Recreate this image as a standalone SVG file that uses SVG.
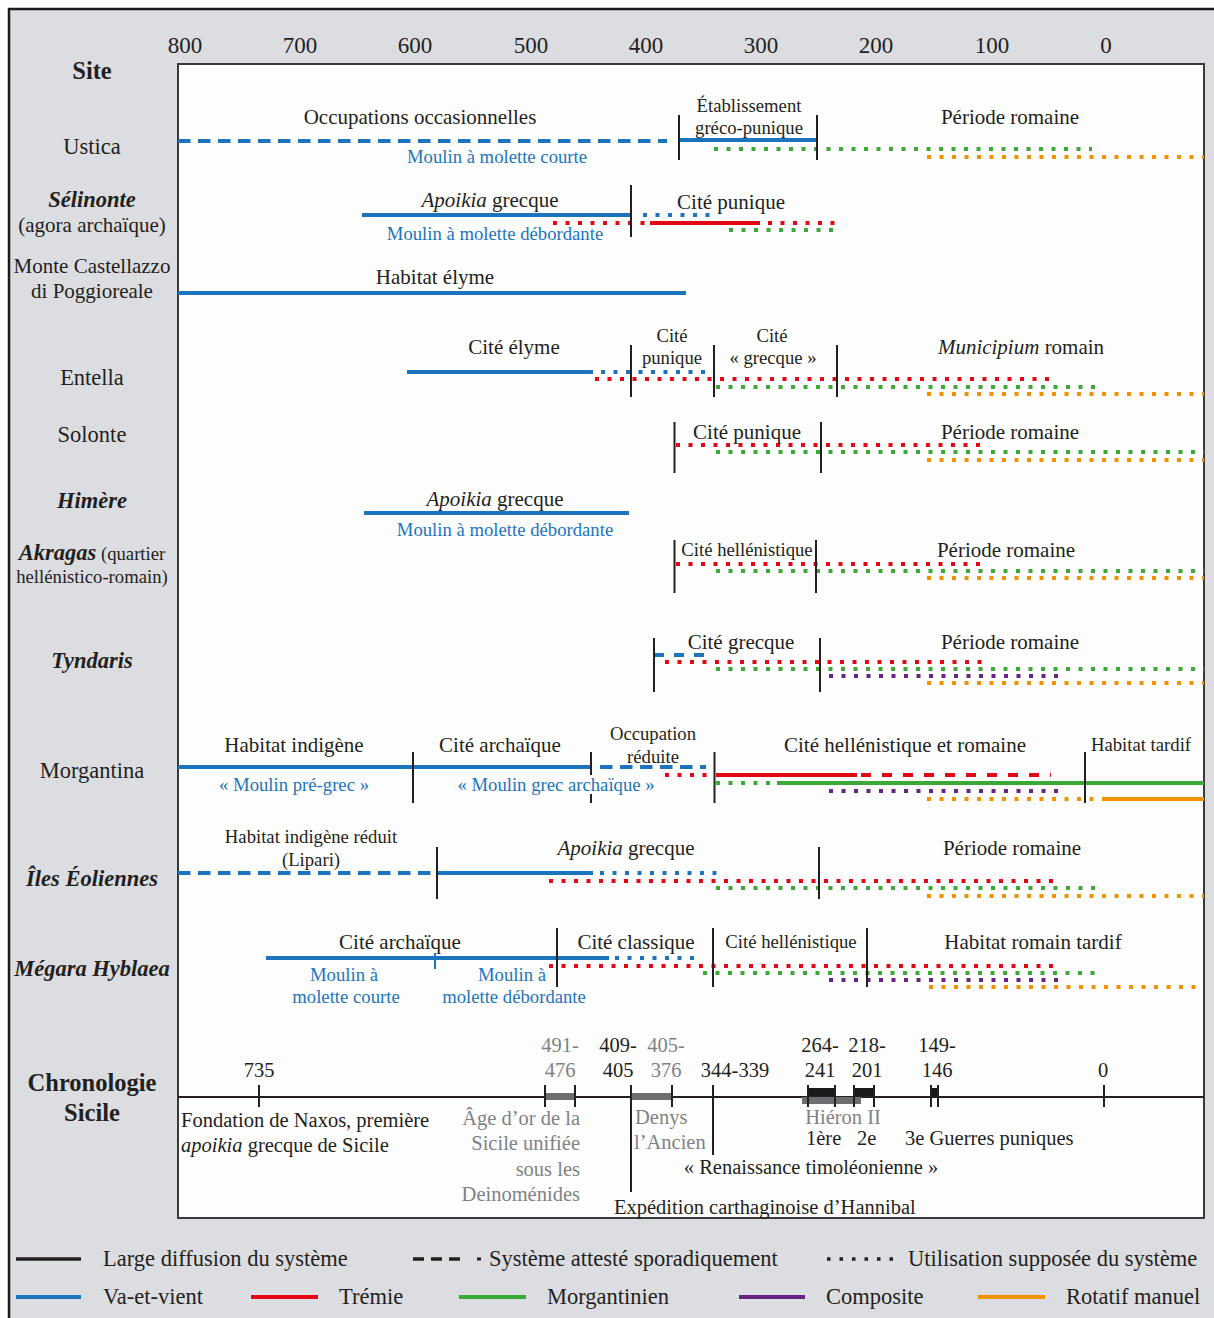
<svg xmlns="http://www.w3.org/2000/svg" width="1214" height="1318" viewBox="0 0 1214 1318">
<style>
.t{font-family:"Liberation Serif","Times New Roman",serif;fill:#231f20}
.m{text-anchor:middle}
.e{text-anchor:end}
.f25{font-size:24.5px;font-weight:bold}
.f23{font-size:23px}
.f22{font-size:22.5px}
.f21{font-size:21px}
.f20{font-size:20.5px}
.f19{font-size:18.7px}
.bi{font-weight:bold;font-style:italic}
.it{font-style:italic}
.blt{fill:#1c75bc}
.gyt{fill:#808285}
line{fill:none}
.bl{stroke:#1c75bc}.rd{stroke:#e30613}.gr{stroke:#3aa935}.pu{stroke:#662483}.or{stroke:#f39200}.bk{stroke:#231f20}
.so{stroke-width:4}
.da{stroke-width:4;stroke-dasharray:12.5 7.5}
.ds{stroke-width:4;stroke-dasharray:10 11}
.dt{stroke-width:4;stroke-dasharray:4 8.5}
.tk{stroke:#231f20;stroke-width:2}
</style>
<rect x="0" y="0" width="1214" height="1318" fill="#ffffff"/>
<rect x="9" y="9" width="1210" height="1315" fill="#dcdde0" stroke="#1a1a1a" stroke-width="2.5"/>
<rect x="178" y="64" width="1026" height="1154" fill="#fdfdfd" stroke="#3a3a3a" stroke-width="2"/>

<g id="axis">
<text class="t f23 m" x="185" y="53">800</text>
<text class="t f23 m" x="300" y="53">700</text>
<text class="t f23 m" x="415" y="53">600</text>
<text class="t f23 m" x="531" y="53">500</text>
<text class="t f23 m" x="646" y="53">400</text>
<text class="t f23 m" x="761" y="53">300</text>
<text class="t f23 m" x="876" y="53">200</text>
<text class="t f23 m" x="992" y="53">100</text>
<text class="t f23 m" x="1106" y="53">0</text>
</g>

<g id="sites">
<text class="t f25 m" x="92" y="79">Site</text>
<text class="t f22 m" x="92" y="154">Ustica</text>
<text class="t f22 m bi" x="92" y="207">Sélinonte</text>
<text class="t f21 m" x="92" y="232">(agora archaïque)</text>
<text class="t f21 m" x="92" y="273">Monte Castellazzo</text>
<text class="t f21 m" x="92" y="298">di Poggioreale</text>
<text class="t f22 m" x="92" y="385">Entella</text>
<text class="t f22 m" x="92" y="442">Solonte</text>
<text class="t f22 m bi" x="92" y="508">Himère</text>
<text class="t m" x="92" y="560"><tspan class="f22 bi">Akragas</tspan><tspan class="f19"> (quartier</tspan></text>
<text class="t f19 m" x="92" y="583">hellénistico-romain)</text>
<text class="t f22 m bi" x="92" y="668">Tyndaris</text>
<text class="t f22 m" x="92" y="778">Morgantina</text>
<text class="t f22 m bi" x="92" y="886">Îles Éoliennes</text>
<text class="t f22 m bi" x="92" y="976">Mégara Hyblaea</text>
<text class="t f25 m" x="92" y="1091">Chronologie</text>
<text class="t f25 m" x="92" y="1121">Sicile</text>
</g>

<g id="connectors">
<!-- Ustica -->
<line class="bl da" x1="178" y1="141" x2="667" y2="141"/>
<line class="bl so" x1="679" y1="140" x2="817" y2="140"/>
<line class="gr dt" x1="714" y1="149" x2="1092" y2="149"/>
<line class="or dt" x1="927" y1="157" x2="1204" y2="157"/>
<line class="tk" x1="679" y1="115" x2="679" y2="160"/>
<line class="tk" x1="817" y1="115" x2="817" y2="160"/>
<!-- Selinonte -->
<line class="bl so" x1="362" y1="215" x2="631" y2="215"/>
<line class="bl dt" x1="643" y1="215" x2="712" y2="215"/>
<line class="rd dt" x1="553" y1="223" x2="647" y2="223"/>
<line class="rd so" x1="650" y1="223" x2="760" y2="223"/>
<line class="rd dt" x1="768" y1="223" x2="838" y2="223"/>
<line class="gr dt" x1="729" y1="230" x2="837" y2="230"/>
<line class="tk" x1="631" y1="185" x2="631" y2="237"/>
<!-- Monte Castellazzo -->
<line class="bl so" x1="178" y1="293" x2="686" y2="293"/>
<!-- Entella -->
<line class="bl so" x1="407" y1="372" x2="593" y2="372"/>
<line class="bl dt" x1="601" y1="372" x2="708" y2="372"/>
<line class="rd dt" x1="595" y1="379" x2="1053" y2="379"/>
<line class="gr dt" x1="716" y1="387" x2="1096" y2="387"/>
<line class="or dt" x1="927" y1="394" x2="1204" y2="394"/>
<line class="tk" x1="631" y1="345" x2="631" y2="397"/>
<line class="tk" x1="714" y1="345" x2="714" y2="397"/>
<line class="tk" x1="837" y1="345" x2="837" y2="397"/>
<!-- Solonte -->
<line class="rd dt" x1="676" y1="445" x2="980" y2="445"/>
<line class="gr dt" x1="716" y1="452" x2="1204" y2="452"/>
<line class="or dt" x1="927" y1="460" x2="1204" y2="460"/>
<line class="tk" x1="674.5" y1="422" x2="674.5" y2="473"/>
<line class="tk" x1="821" y1="422" x2="821" y2="473"/>
<!-- Himere -->
<line class="bl so" x1="364" y1="513" x2="629" y2="513"/>
<!-- Akragas -->
<line class="rd dt" x1="676" y1="564" x2="980" y2="564"/>
<line class="gr dt" x1="716" y1="571" x2="1204" y2="571"/>
<line class="or dt" x1="927" y1="578" x2="1204" y2="578"/>
<line class="tk" x1="674.5" y1="540" x2="674.5" y2="593"/>
<line class="tk" x1="816" y1="540" x2="816" y2="593"/>
<!-- Tyndaris -->
<line class="bl so" x1="654" y1="655" x2="706" y2="655" stroke-dasharray="10 10"/>
<line class="rd dt" x1="665" y1="662" x2="982" y2="662"/>
<line class="gr dt" x1="716" y1="669" x2="1204" y2="669"/>
<line class="pu dt" x1="829" y1="676" x2="1059" y2="676"/>
<line class="or dt" x1="927" y1="683" x2="1204" y2="683"/>
<line class="tk" x1="654" y1="638" x2="654" y2="692"/>
<line class="tk" x1="820" y1="638" x2="820" y2="692"/>
<!-- Morgantina -->
<line class="bl so" x1="178" y1="767" x2="591" y2="767"/>
<line class="bl da" x1="600" y1="767" x2="706" y2="767"/>
<line class="rd dt" x1="665" y1="775" x2="708" y2="775"/>
<line class="rd so" x1="716" y1="775" x2="857" y2="775"/>
<line class="rd ds" x1="861" y1="775" x2="1051" y2="775"/>
<line class="gr dt" x1="716" y1="783" x2="773" y2="783"/>
<line class="gr so" x1="777" y1="783" x2="1204" y2="783"/>
<line class="pu dt" x1="829" y1="791" x2="1059" y2="791"/>
<line class="or dt" x1="927" y1="799" x2="1096" y2="799"/>
<line class="or so" x1="1102" y1="799" x2="1204" y2="799"/>
<line class="tk" x1="413" y1="752" x2="413" y2="803"/>
<line class="tk" x1="591" y1="752" x2="591" y2="775"/>
<line class="tk" x1="591" y1="794" x2="591" y2="803"/>
<line class="tk" x1="714.5" y1="752" x2="714.5" y2="803"/>
<line class="tk" x1="1085" y1="752" x2="1085" y2="803"/>
<!-- Iles Eoliennes -->
<line class="bl da" x1="178" y1="873" x2="437" y2="873"/>
<line class="bl so" x1="437" y1="873" x2="593" y2="873"/>
<line class="bl dt" x1="600" y1="873" x2="718" y2="873"/>
<line class="rd dt" x1="549" y1="881" x2="1053" y2="881"/>
<line class="gr dt" x1="716" y1="888" x2="1096" y2="888"/>
<line class="or dt" x1="927" y1="896" x2="1204" y2="896"/>
<line class="tk" x1="437" y1="847" x2="437" y2="899"/>
<line class="tk" x1="819" y1="847" x2="819" y2="899"/>
<!-- Megara Hyblaea -->
<line class="bl so" x1="266" y1="958" x2="609" y2="958"/>
<line class="bl dt" x1="615" y1="958" x2="699" y2="958"/>
<line class="rd dt" x1="549" y1="966" x2="1053" y2="966"/>
<line class="gr dt" x1="703" y1="973" x2="1096" y2="973"/>
<line class="pu dt" x1="829" y1="980" x2="1059" y2="980"/>
<line class="or dt" x1="929" y1="987" x2="1198" y2="987"/>
<line class="bl" stroke-width="2" x1="435" y1="953" x2="435" y2="969"/>
<line class="tk" x1="557" y1="928" x2="557" y2="987"/>
<line class="tk" x1="713" y1="928" x2="713" y2="987"/>
<line class="tk" x1="867" y1="928" x2="867" y2="987"/>
</g>

<g id="labels">
<text class="t f21 m" x="420" y="124">Occupations occasionnelles</text>
<text class="t f19 m blt" x="497" y="163">Moulin à molette courte</text>
<text class="t f19 m" x="749" y="112">Établissement</text>
<text class="t f19 m" x="749" y="134">gréco-punique</text>
<text class="t f21 m" x="1010" y="124">Période romaine</text>
<text class="t f21 m" x="490" y="207"><tspan class="it">Apoikia</tspan> grecque</text>
<text class="t f21 m" x="731" y="209">Cité punique</text>
<text class="t f19 m blt" x="495" y="240">Moulin à molette débordante</text>
<text class="t f21 m" x="435" y="284">Habitat élyme</text>
<text class="t f21 m" x="514" y="354">Cité élyme</text>
<text class="t f19 m" x="672" y="342">Cité</text>
<text class="t f19 m" x="672" y="364">punique</text>
<text class="t f19 m" x="772" y="342">Cité</text>
<text class="t f19 m" x="773" y="364">« grecque »</text>
<text class="t f21 m" x="1021" y="354"><tspan class="it">Municipium</tspan> romain</text>
<text class="t f21 m" x="747" y="439">Cité punique</text>
<text class="t f21 m" x="1010" y="439">Période romaine</text>
<text class="t f21 m" x="495" y="506"><tspan class="it">Apoikia</tspan> grecque</text>
<text class="t f19 m blt" x="505" y="536">Moulin à molette débordante</text>
<text class="t f19 m" x="747" y="556">Cité hellénistique</text>
<text class="t f21 m" x="1006" y="557">Période romaine</text>
<text class="t f21 m" x="741" y="649">Cité grecque</text>
<text class="t f21 m" x="1010" y="649">Période romaine</text>
<text class="t f21 m" x="294" y="752">Habitat indigène</text>
<text class="t f21 m" x="500" y="752">Cité archaïque</text>
<text class="t f19 m" x="653" y="740">Occupation</text>
<text class="t f19 m" x="653" y="763">réduite</text>
<text class="t f21 m" x="905" y="752">Cité hellénistique et romaine</text>
<text class="t f19 m" x="1141" y="751">Habitat tardif</text>
<text class="t f19 m blt" x="294" y="791">« Moulin pré-grec »</text>
<text class="t f19 m blt" x="556" y="791">« Moulin grec archaïque »</text>
<text class="t f19 m" x="311" y="843">Habitat indigène réduit</text>
<text class="t f19 m" x="311" y="866">(Lipari)</text>
<text class="t f21 m" x="626" y="855"><tspan class="it">Apoikia</tspan> grecque</text>
<text class="t f21 m" x="1012" y="855">Période romaine</text>
<text class="t f21 m" x="400" y="949">Cité archaïque</text>
<text class="t f21 m" x="636" y="949">Cité classique</text>
<text class="t f19 m" x="791" y="948">Cité hellénistique</text>
<text class="t f21 m" x="1033" y="949">Habitat romain tardif</text>
<text class="t f19 m blt" x="344" y="981">Moulin à</text>
<text class="t f19 m blt" x="346" y="1003">molette courte</text>
<text class="t f19 m blt" x="512" y="981">Moulin à</text>
<text class="t f19 m blt" x="514" y="1003">molette débordante</text>
</g>

<g id="chronologie">
<line x1="178" y1="1097" x2="1204" y2="1097" stroke="#231f20" stroke-width="2"/>
<rect x="545" y="1093" width="30" height="7" fill="#6d6e71"/>
<rect x="631" y="1093" width="41" height="7" fill="#6d6e71"/>
<rect x="802" y="1097" width="59" height="7" fill="#6d6e71"/>
<rect x="808" y="1088" width="27" height="8" fill="#1a1a1a"/>
<rect x="854" y="1088" width="20" height="8" fill="#1a1a1a"/>
<rect x="931" y="1088" width="7" height="8" fill="#1a1a1a"/>
<line class="tk" x1="259" y1="1085" x2="259" y2="1107"/>
<line class="tk" x1="545" y1="1085" x2="545" y2="1107"/>
<line class="tk" x1="575" y1="1085" x2="575" y2="1107"/>
<line class="tk" x1="631" y1="1085" x2="631" y2="1192"/>
<line class="tk" x1="672" y1="1085" x2="672" y2="1107"/>
<line class="tk" x1="713" y1="1085" x2="713" y2="1155"/>
<line class="tk" x1="808" y1="1085" x2="808" y2="1107"/>
<line class="tk" x1="835" y1="1085" x2="835" y2="1107"/>
<line class="tk" x1="854" y1="1085" x2="854" y2="1107"/>
<line class="tk" x1="874" y1="1085" x2="874" y2="1107"/>
<line class="tk" x1="931" y1="1085" x2="931" y2="1107"/>
<line class="tk" x1="938" y1="1085" x2="938" y2="1107"/>
<line class="tk" x1="1104" y1="1085" x2="1104" y2="1107"/>
<text class="t f20 m" x="259" y="1077">735</text>
<text class="t f20 m gyt" x="560" y="1052">491-</text>
<text class="t f20 m gyt" x="560" y="1077">476</text>
<text class="t f20 m" x="618" y="1052">409-</text>
<text class="t f20 m" x="618" y="1077">405</text>
<text class="t f20 m gyt" x="666" y="1052">405-</text>
<text class="t f20 m gyt" x="666" y="1077">376</text>
<text class="t f20 m" x="735" y="1077">344-339</text>
<text class="t f20 m" x="820" y="1052">264-</text>
<text class="t f20 m" x="820" y="1077">241</text>
<text class="t f20 m" x="867" y="1052">218-</text>
<text class="t f20 m" x="867" y="1077">201</text>
<text class="t f20 m" x="937" y="1052">149-</text>
<text class="t f20 m" x="937" y="1077">146</text>
<text class="t f20 m" x="1103" y="1077">0</text>
<text class="t f20" x="181" y="1127">Fondation de Naxos, première</text>
<text class="t f20" x="181" y="1152"><tspan class="it">apoikia</tspan> grecque de Sicile</text>
<text class="t f20 e gyt" x="580" y="1125">Âge d’or de la</text>
<text class="t f20 e gyt" x="580" y="1150">Sicile unifiée</text>
<text class="t f20 e gyt" x="580" y="1176">sous les</text>
<text class="t f20 e gyt" x="580" y="1201">Deinoménides</text>
<text class="t f20 gyt" x="635" y="1124">Denys</text>
<text class="t f20 gyt" x="634" y="1149">l’Ancien</text>
<text class="t f20 gyt m" x="843" y="1124">Hiéron II</text>
<text class="t f20" x="806" y="1145">1ère</text>
<text class="t f20" x="857" y="1145">2e</text>
<text class="t f20" x="905" y="1145">3e Guerres puniques</text>
<text class="t f20 m" x="811" y="1174">« Renaissance timoléonienne »</text>
<text class="t f20" x="614" y="1214">Expédition carthaginoise d’Hannibal</text>
</g>

<g id="legend">
<line class="bk" stroke-width="3.5" x1="16" y1="1259" x2="81" y2="1259"/>
<text class="t f22" x="103" y="1266">Large diffusion du système</text>
<line class="bk" stroke-width="3.5" x1="413" y1="1259" x2="460" y2="1259" stroke-dasharray="11 7"/>
<line class="bk" stroke-width="3" x1="477" y1="1259" x2="481" y2="1259"/>
<text class="t f22" x="489" y="1266">Système attesté sporadiquement</text>
<line class="bk" stroke-width="3.5" x1="827" y1="1259" x2="894" y2="1259" stroke-dasharray="3.5 9"/>
<text class="t f22" x="908" y="1266">Utilisation supposée du système</text>
<line class="bl" stroke-width="4" x1="16" y1="1297" x2="81" y2="1297"/>
<text class="t f22" x="103" y="1304">Va-et-vient</text>
<line class="rd" stroke-width="4" x1="251" y1="1297" x2="318" y2="1297"/>
<text class="t f22" x="339" y="1304">Trémie</text>
<line class="gr" stroke-width="4" x1="459" y1="1297" x2="526" y2="1297"/>
<text class="t f22" x="547" y="1304">Morgantinien</text>
<line class="pu" stroke-width="4" x1="739" y1="1297" x2="805" y2="1297"/>
<text class="t f22" x="826" y="1304">Composite</text>
<line class="or" stroke-width="4" x1="978" y1="1297" x2="1045" y2="1297"/>
<text class="t f22" x="1066" y="1304">Rotatif manuel</text>
</g>
</svg>
